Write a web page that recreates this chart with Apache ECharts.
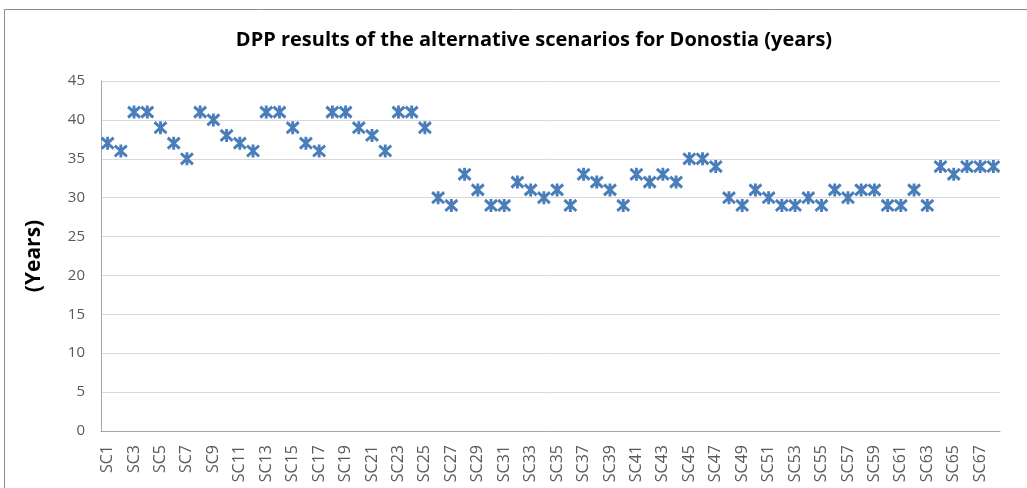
<!DOCTYPE html>
<html>
<head>
<meta charset="utf-8">
<script src="https://cdn.jsdelivr.net/npm/echarts@6/dist/echarts.min.js"></script>
<style>
  html, body { margin: 0; padding: 0; background: #fff; }
  #chart { width: 1027px; height: 488px; }
</style>
</head>
<body>
<div id="chart"></div>
<script>
// Scenario names SC1 … SC68
const scenarios = [
  'SC1','SC2','SC3','SC4','SC5','SC6','SC7','SC8','SC9','SC10',
  'SC11','SC12','SC13','SC14','SC15','SC16','SC17','SC18','SC19','SC20',
  'SC21','SC22','SC23','SC24','SC25','SC26','SC27','SC28','SC29','SC30',
  'SC31','SC32','SC33','SC34','SC35','SC36','SC37','SC38','SC39','SC40',
  'SC41','SC42','SC43','SC44','SC45','SC46','SC47','SC48','SC49','SC50',
  'SC51','SC52','SC53','SC54','SC55','SC56','SC57','SC58','SC59','SC60',
  'SC61','SC62','SC63','SC64','SC65','SC66','SC67','SC68'
];

// Discounted payback period per scenario (years)
const dppYears = [
  37, 36, 41, 41, 39, 37, 35, 41, 40, 38,
  37, 36, 41, 41, 39, 37, 36, 41, 41, 39,
  38, 36, 41, 41, 39, 30, 29, 33, 31, 29,
  29, 32, 31, 30, 31, 29, 33, 32, 31, 29,
  33, 32, 33, 32, 35, 35, 34, 30, 29, 31,
  30, 29, 29, 30, 29, 31, 30, 31, 31, 29,
  29, 31, 29, 34, 33, 34, 34, 34
];

const chartTitle = 'DPP results of the alternative scenarios for Donostia (years)';
const yAxisName = '(Years)';

const blue = '#4A7EBB';
const textGrey = '#595959';

const chart = echarts.init(document.getElementById('chart'));
chart.setOption({
  animation: false,
  backgroundColor: '#ffffff',
  title: {
    text: chartTitle,
    left: 529,
    top: 25,
    textAlign: 'center',
    textStyle: { fontFamily: 'Open Sans', fontWeight: 'bold', fontSize: 20, color: '#000' }
  },
  graphic: [{
    type: 'rect',
    shape: { x: 4.5, y: 9.5, width: 1100, height: 600 },
    style: { fill: 'none', stroke: '#8c8c8c', lineWidth: 1 },
    silent: true
  }],
  grid: { left: 101, right: 27, top: 81, bottom: 57, containLabel: false },
  xAxis: {
    type: 'category',
    data: scenarios,
    boundaryGap: true,
    axisLine: { show: true, lineStyle: { color: '#a6a6a6', width: 1 } },
    axisTick: { show: false },
    axisLabel: {
      interval: 1,
      rotate: 90,
      margin: 14,
      fontFamily: 'Open Sans',
      fontSize: 16,
      color: textGrey
    },
    splitLine: { show: false }
  },
  yAxis: {
    type: 'value',
    min: 0,
    max: 45,
    interval: 5,
    name: yAxisName,
    nameLocation: 'middle',
    nameGap: 56,
    nameRotate: 90,
    nameTextStyle: { fontFamily: 'Open Sans', fontWeight: 'bold', fontSize: 21, color: '#000' },
    axisLine: { show: true, lineStyle: { color: '#a6a6a6', width: 1 } },
    axisTick: { show: false },
    axisLabel: { fontFamily: 'Open Sans', fontSize: 15, color: textGrey, margin: 16 },
    splitLine: { show: true, lineStyle: { color: '#d9d9d9', width: 1 } }
  },
  series: [{
    type: 'scatter',
    data: dppYears,
    symbol: 'path://M0,0L10,10M10,0L0,10M5,-1L5,11',
    symbolSize: [12, 13],
    itemStyle: { color: 'none', borderColor: blue, borderWidth: 3, opacity: 1 }
  }]
});
</script>
</body>
</html>
